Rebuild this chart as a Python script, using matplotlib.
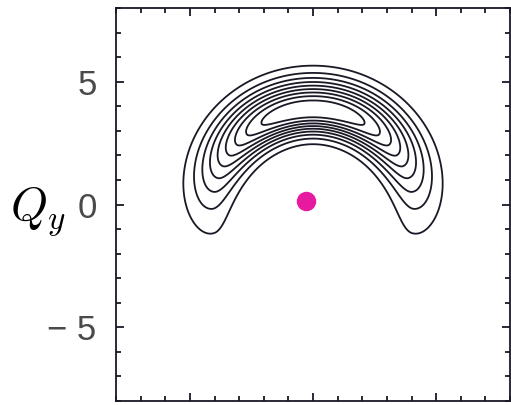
import numpy as np
import matplotlib.pyplot as plt
from matplotlib.ticker import MultipleLocator

plt.rcParams['mathtext.fontset'] = 'cm'

# crescent-shaped density: gaussian ring with a flattened angular envelope
ring_radius = 3.85        # ridge radius at the top of the ring
ring_growth = 0.1         # ridge moves outward toward the tips
sigma_out = 0.84          # radial width outside the ridge
sigma_in = 0.65           # radial width inside the ridge
arc_width = np.deg2rad(59)  # angular half-width of the envelope
arc_power = 2.6
levels = [0.1, 0.2, 0.3, 0.4, 0.5, 0.6, 0.7, 0.8, 0.9]

# single marked point
dot_x = [-0.28]
dot_y = [0.14]

yticks = [-5, 0, 5]
yticklabels = ['\u2212 5', '0', '5']

x = np.linspace(-8, 8, 600)
y = np.linspace(-8, 8, 600)
X, Y = np.meshgrid(x, y)
r = np.hypot(X, Y)
phi = np.arctan2(X, Y)  # angle from the +y direction
R = ring_radius + ring_growth * phi ** 2
sig = np.where(r > R, sigma_out, sigma_in)
Z = np.exp(-(r - R) ** 2 / (2 * sig ** 2)) * np.exp(-0.5 * (np.abs(phi) / arc_width) ** arc_power)

fig = plt.figure(figsize=(5.11, 4.05), dpi=100)
ax = fig.add_axes([116 / 511, 4 / 405, 394 / 511, 393 / 405])

ax.contour(X, Y, Z, levels=levels, colors='#1b1826', linewidths=1.3)
ax.plot(dot_x, dot_y, 'o', color='#e6199f', ms=14, mec='none')

ax.set_xlim(-8, 8)
ax.set_ylim(-8, 8)
ax.xaxis.set_major_locator(MultipleLocator(5))
ax.xaxis.set_minor_locator(MultipleLocator(1))
ax.set_yticks(yticks)
ax.set_yticklabels(yticklabels)
ax.yaxis.set_minor_locator(MultipleLocator(1))
ax.tick_params(which='both', direction='in', top=True, right=True,
               width=1.3, color='#1b1826')
ax.tick_params(which='major', length=6)
ax.tick_params(which='minor', length=3.5)
ax.tick_params(axis='x', labelbottom=False)
ax.tick_params(axis='y', labelsize=25, pad=14, labelcolor='#4a4a4a')
for lab in ax.get_yticklabels():
    lab.set_fontfamily('Liberation Sans')
for s in ax.spines.values():
    s.set_linewidth(1.3)
    s.set_color('#1b1826')

fig.text(10 / 511, 1 - 212 / 405, r'$Q_y$', fontsize=34, va='center', ha='left')

fig.savefig('out.png', dpi=100)
